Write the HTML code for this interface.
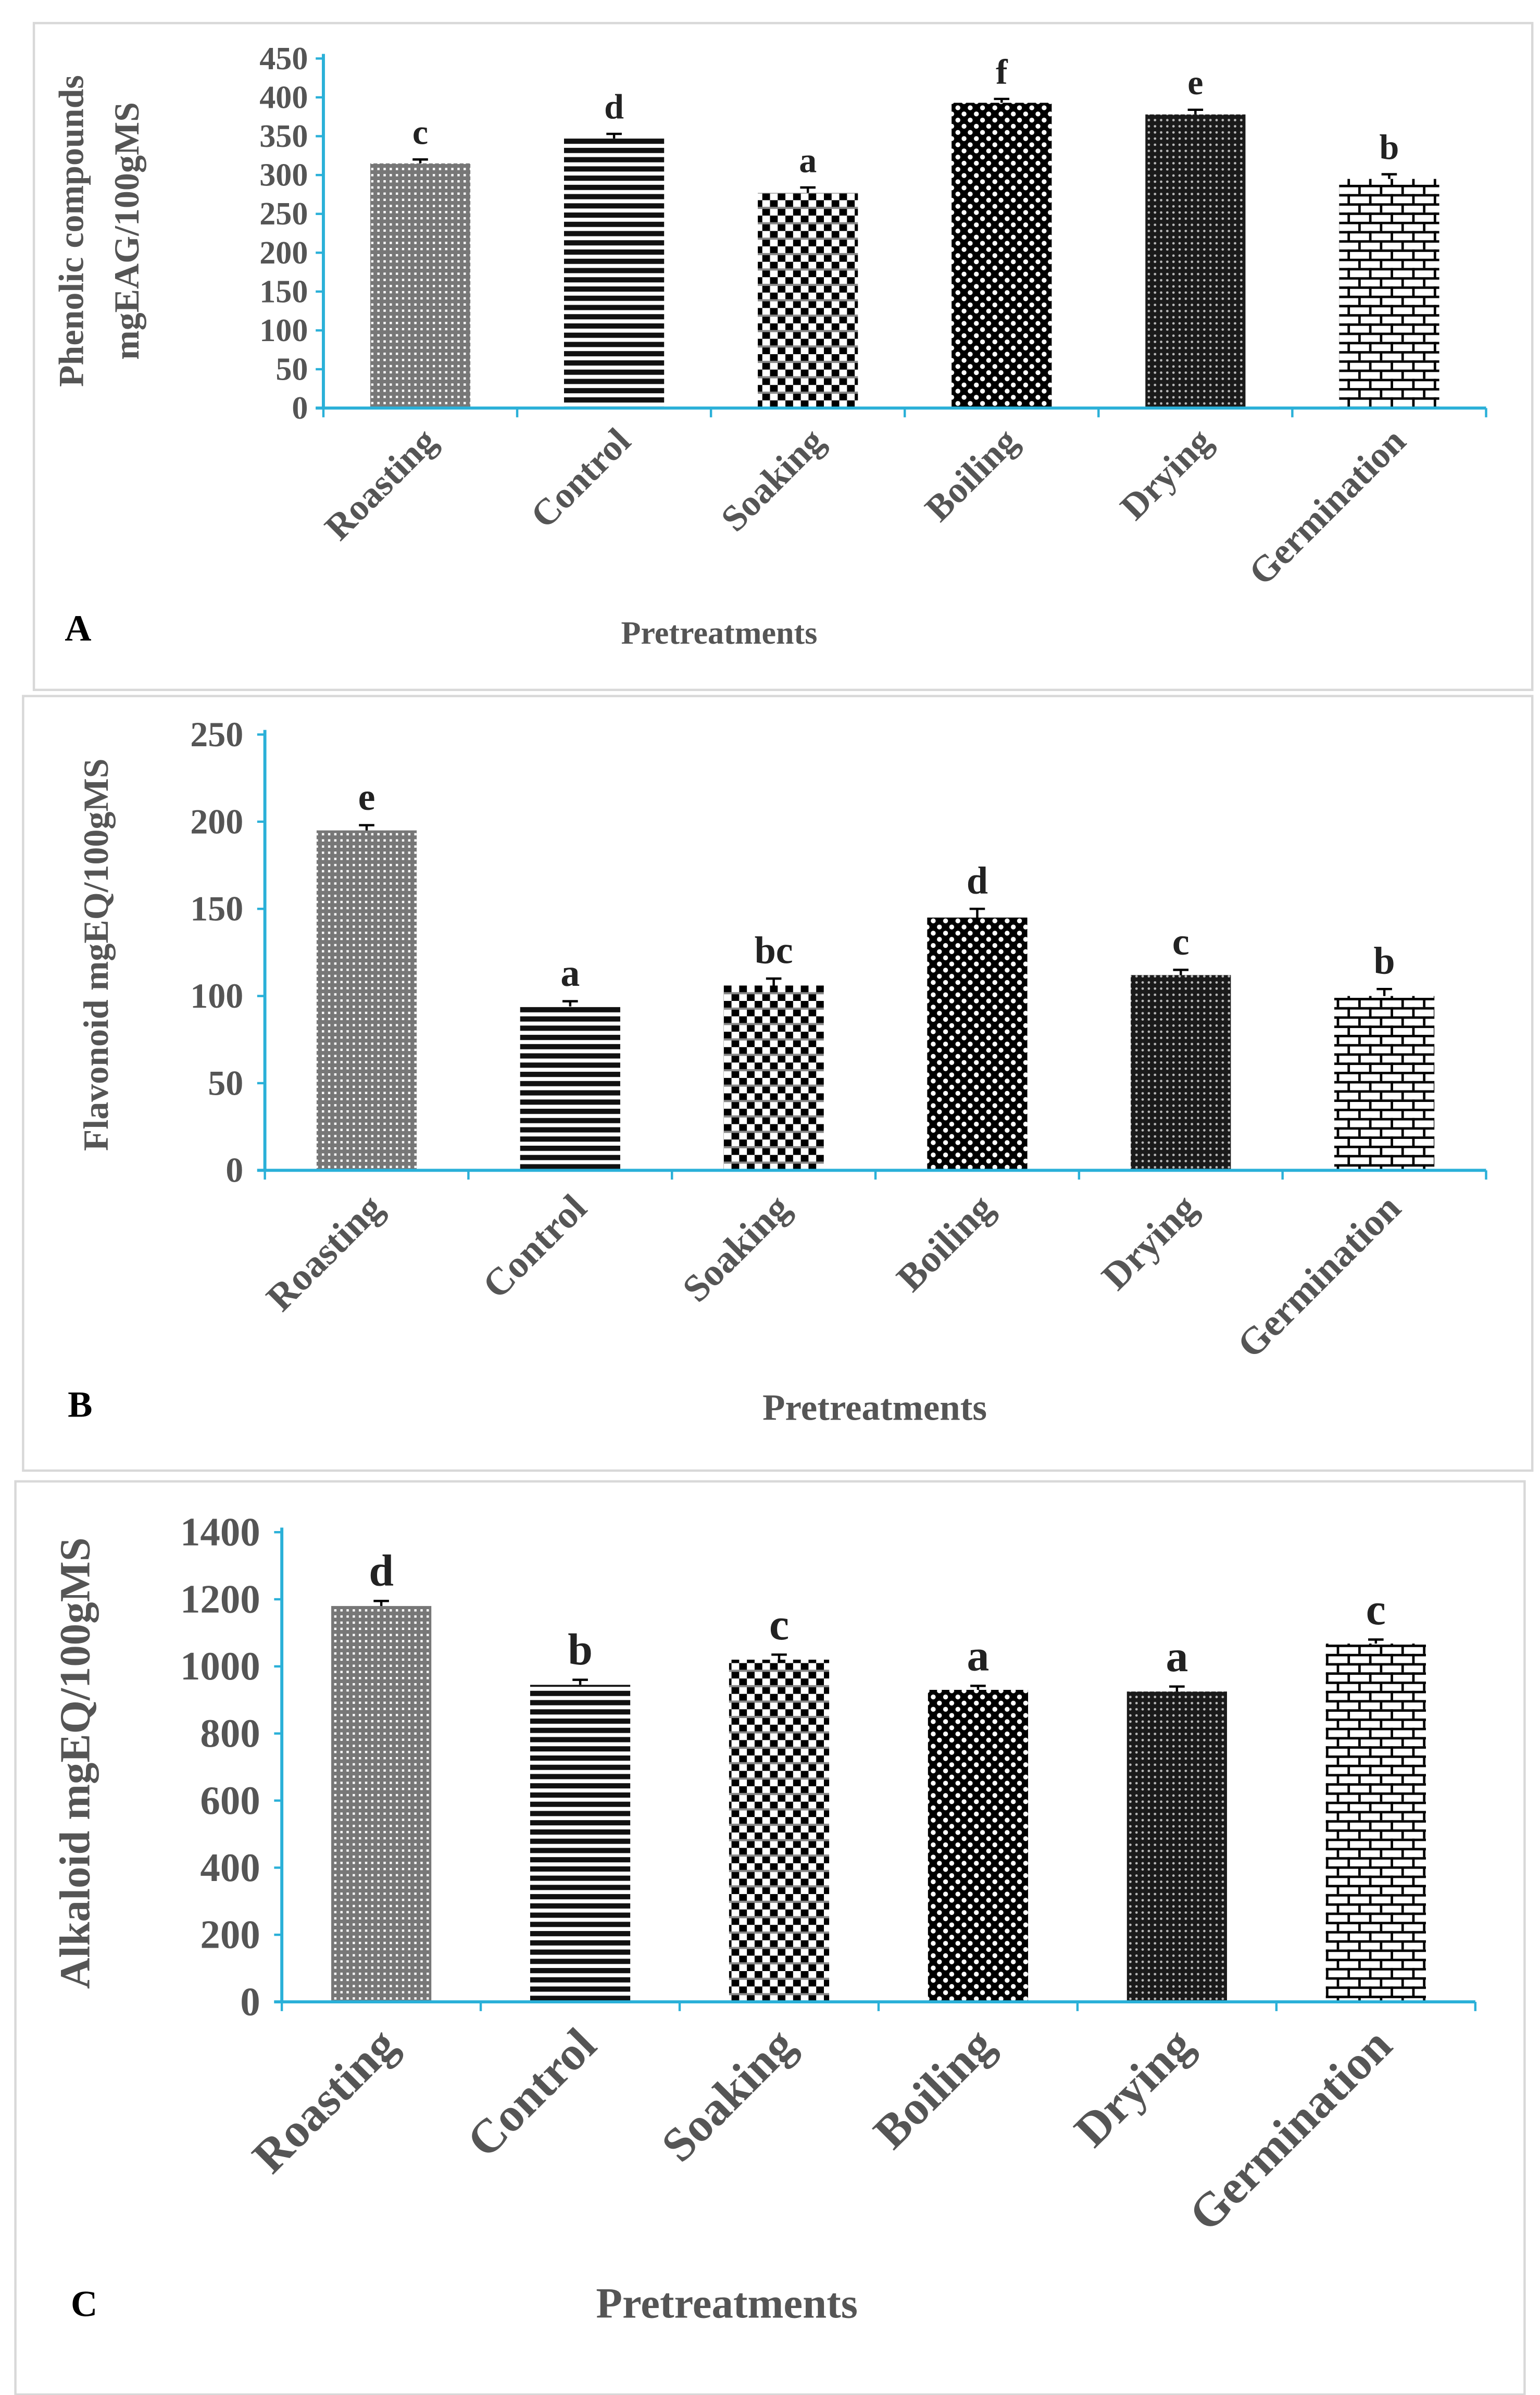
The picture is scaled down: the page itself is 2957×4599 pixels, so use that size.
<!DOCTYPE html>
<html><head><meta charset="utf-8"><style>
html,body{margin:0;padding:0;background:#fff;}
svg{display:block;}
text{font-family:"Liberation Serif",serif;font-weight:bold;}
</style></head><body>
<svg id="fig" width="2957" height="4599" viewBox="0 0 1000 1555.3" preserveAspectRatio="none" xmlns="http://www.w3.org/2000/svg">
<defs>
<pattern id="p0" patternUnits="userSpaceOnUse" width="4" height="4"><rect width="4" height="4" fill="#777"/><rect x="1" y="1" width="1.5" height="1.5" fill="#fff"/></pattern>
<pattern id="p1" patternUnits="userSpaceOnUse" width="6" height="6"><rect width="6" height="6" fill="#fff"/><rect width="6" height="3.4" fill="#111"/></pattern>
<pattern id="p2" patternUnits="userSpaceOnUse" width="10" height="10"><rect width="10" height="10" fill="#fff"/><rect x="0" y="0" width="5" height="5" fill="#000"/><rect x="5" y="5" width="5" height="5" fill="#000"/><rect x="0" y="4.3" width="10" height="1.4" fill="#888"/></pattern>
<pattern id="p3" patternUnits="userSpaceOnUse" width="8" height="8"><rect width="8" height="8" fill="#000"/><circle cx="2" cy="2" r="1.6" fill="#fff"/><circle cx="6" cy="6" r="1.6" fill="#fff"/></pattern>
<pattern id="p4" patternUnits="userSpaceOnUse" width="4" height="4"><rect width="4" height="4" fill="#1a1a1a"/><circle cx="2" cy="2" r="0.8" fill="#bbb"/></pattern>
<pattern id="p5" patternUnits="userSpaceOnUse" width="14" height="12"><rect width="14" height="12" fill="#fff"/><rect y="0" width="14" height="1.6" fill="#000"/><rect y="6" width="14" height="1.6" fill="#000"/><rect x="0" y="0" width="1.6" height="6" fill="#000"/><rect x="7" y="6" width="1.6" height="6" fill="#000"/></pattern>
</defs>
<g id="root"></g>
</svg>
<script>
const categories = ["Roasting","Control","Soaking","Boiling","Drying","Germination"];
const valuesA = [315, 347, 277, 393, 378, 295];
const errorsA = [5, 6, 7, 5, 6, 6];
const lettersA = ["c","d","a","f","e","b"];
const ticksA = [0,50,100,150,200,250,300,350,400,450];
const valuesB = [195, 94, 106, 145, 112, 100];
const errorsB = [3, 3, 4, 5, 3, 4];
const lettersB = ["e","a","bc","d","c","b"];
const ticksB = [0,50,100,150,200,250];
const valuesC = [1180, 945, 1020, 930, 925, 1068];
const errorsC = [15, 15, 15, 12, 15, 12];
const lettersC = ["d","b","c","a","a","c"];
const ticksC = [0,200,400,600,800,1000,1200,1400];

const NS = "http://www.w3.org/2000/svg";
const root = document.getElementById('root');
function mk(tag, attrs, parent, txt){
  const e = document.createElementNS(NS, tag);
  for (const k in attrs) e.setAttribute(k, attrs[k]);
  if (txt !== undefined) e.textContent = txt;
  (parent || root).appendChild(e);
  return e;
}
const panels = [
  {id:'a', box:[22,15,973,433], x0:210, x1:965, y0:265, y1:38, max:450, vals:valuesA, errs:errorsA, letters:lettersA, ticks:ticksA,
   tickFs:21, tickDx:20, title:["Phenolic compounds","mgEAG/100gMS"], titleX:[54,90], titleY:150, titleFs:23,
   catFs:24, catY:288, lab:"A", labX:42, labY:416, xtitleX:467, xtitleY:418, xtFs:21, letFs:23, bw:65},
  {id:'b', box:[15,452,980,503], x0:172, x1:965, y0:760, y1:477, max:250, vals:valuesB, errs:errorsB, letters:lettersB, ticks:ticksB,
   tickFs:23, tickDx:24, title:["Flavonoid mgEQ/100gMS"], titleX:[70], titleY:620, titleFs:23,
   catFs:25, catY:786, lab:"B", labX:44, labY:920, xtitleX:568, xtitleY:922, xtFs:24, letFs:25, bw:65},
  {id:'c', box:[10,962,980,593], x0:183, x1:958, y0:1300, y1:995, max:1400, vals:valuesC, errs:errorsC, letters:lettersC, ticks:ticksC,
   tickFs:26, tickDx:24, title:["Alkaloid mgEQ/100gMS"], titleX:[58], titleY:1145, titleFs:28,
   catFs:31, catY:1330, lab:"C", labX:46, labY:1504, xtitleX:472, xtitleY:1505, xtFs:28, letFs:29, bw:65}
];
panels.forEach(function(p){
  const g = mk('g', {});
  
  
  const frame = mk('rect', {x:p.box[0], y:p.box[1], width:p.box[2], height:p.box[3], fill:'#fff', stroke:'#d8d8d8', 'stroke-width':1.5}, g);
  
  
  const ys = v => p.y0 - (v / p.max) * (p.y0 - p.y1);
  const cw = (p.x1 - p.x0) / categories.length;
  const xc = i => p.x0 + cw * (i + 0.5);
  p.vals.forEach(function(v, i){
    const bx = xc(i) - p.bw/2, by = ys(v);
    const r = mk('rect', {x:bx, y:by, width:p.bw, height:p.y0 - by, fill:'url(#p' + i + ')'}, g);
    
    
    const ey = ys(v + p.errs[i]);
    const eb = mk('path', {d:'M'+xc(i)+' '+by+'V'+ey+'M'+(xc(i)-5)+' '+ey+'H'+(xc(i)+5), stroke:'#000', 'stroke-width':1.5, fill:'none'}, g);
    
    
    const lt = mk('text', {x:xc(i), y:ey - 10, 'text-anchor':'middle', 'font-size':p.letFs, fill:'#222'}, g, p.letters[i]);
    
    
    const cl = mk('text', {x:0, y:0, 'text-anchor':'end', 'font-size':p.catFs, fill:'#555', transform:'translate(' + (xc(i)+12) + ',' + p.catY + ') rotate(-45)'}, g, categories[i]);
    
    
  });
  const ax = mk('path', {d:'M'+p.x0+' '+(p.y1-3)+'V'+p.y0+'M'+(p.x0-5)+' '+p.y0+'H'+p.x1, stroke:'#2ab0d8', 'stroke-width':2, fill:'none'}, g);
  
  
  for (let i = 0; i <= categories.length; i++){
    const tx = p.x0 + cw * i;
    mk('line', {x1:tx, x2:tx, y1:p.y0, y2:p.y0+6, stroke:'#2ab0d8', 'stroke-width':1.5}, g);
  }
  p.ticks.forEach(function(t){
    const ty = ys(t);
    mk('line', {x1:p.x0-5, x2:p.x0, y1:ty, y2:ty, stroke:'#2ab0d8', 'stroke-width':1.5}, g);
    const tl = mk('text', {x:p.x0 - p.tickDx + 10, y:ty + p.tickFs*0.33, 'text-anchor':'end', 'font-size':p.tickFs, fill:'#555'}, g, String(t));
    
    
  });
  p.title.forEach(function(s, k){
    const yt = mk('text', {x:0, y:0, 'text-anchor':'middle', 'font-size':p.titleFs, fill:'#555', transform:'translate(' + p.titleX[k] + ',' + p.titleY + ') rotate(-90)'}, g, s);
    
    
  });
  const xt = mk('text', {x:p.xtitleX, y:p.xtitleY, 'text-anchor':'middle', 'font-size':p.xtFs, fill:'#555'}, g, 'Pretreatments');
  
  
  const pl = mk('text', {x:p.labX, y:p.labY, 'font-size':24, fill:'#000'}, g, p.lab);
  
  
});
</script>
</body></html>
